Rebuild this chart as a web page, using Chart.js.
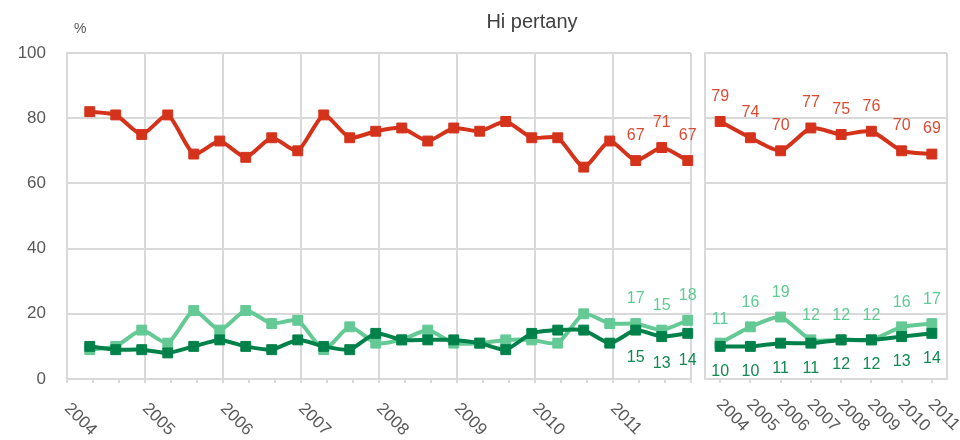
<!DOCTYPE html>
<html>
<head>
<meta charset="utf-8">
<script src="https://cdn.jsdelivr.net/npm/chart.js@4.4.1/dist/chart.umd.min.js"></script>
<style>
  html, body { margin: 0; padding: 0; background: #fff; }
  #wrap { position: relative; width: 960px; height: 440px; overflow: hidden;
          font-family: "Liberation Sans", Arial, sans-serif; }
  #left { position: absolute; left: 0; top: 0; }
  #right { position: absolute; left: 697px; top: 0; }
  #title { position: absolute; left: 432px; width: 200px; top: 10px; text-align: center;
           font-size: 20px; color: #404040; }
  #unit { position: absolute; left: 74px; top: 20px; font-size: 14px; color: #595959; }
</style>
</head>
<body>
<div id="wrap">
  <canvas id="left" width="700" height="440"></canvas>
  <canvas id="right" width="263" height="440"></canvas>
  <div id="title">Hi pertany</div>
  <div id="unit">%</div>
</div>
<script>
// Years shown on both panels
const years = ['2004', '2005', '2006', '2007', '2008', '2009', '2010', '2011'];
// Survey waves inside each year (month of fieldwork)
const waveMonths = [4, 8, 12];

// Wave results, left panel (three waves per year)
const wavesRed   = [82, 81, 75, 81, 69, 73, 68, 74, 70, 81, 74, 76, 77, 73, 77, 76, 79, 74, 74, 65, 73, 67, 71, 67];
const wavesLight = [9, 10, 15, 11, 21, 15, 21, 17, 18, 9, 16, 11, 12, 15, 11, 11, 12, 12, 11, 20, 17, 17, 15, 18];
const wavesDark  = [10, 9, 9, 8, 10, 12, 10, 9, 12, 10, 9, 14, 12, 12, 12, 11, 9, 14, 15, 15, 11, 15, 13, 14];

// Yearly results, right panel
const yearsRed   = [79, 74, 70, 77, 75, 76, 70, 69];
const yearsLight = [11, 16, 19, 12, 12, 12, 16, 17];
const yearsDark  = [10, 10, 11, 11, 12, 12, 13, 14];

// Y axis ticks
const yMin = 0, yMax = 100, yStep = 20;

const RED = '#d5321b', RED_TXT = '#dc4a32';
const LIGHT = '#64c995', LIGHT_TXT = '#5ecb92';
const DARK = '#00814a', DARK_TXT = '#0f8a50';
const GRID = '#d9d9d9';
const AXIS_TXT = '#595959';
const FONT = '"Liberation Sans", Arial, sans-serif';

// months elapsed since January of the first year, mid-month
const waveX = [];
years.forEach((y, yi) => waveMonths.forEach(m => waveX.push(yi * 12 + m - 0.5)));
const toPoints = vals => vals.map((v, i) => ({ x: waveX[i], y: v }));

// value labels next to points
const valueLabels = {
  id: 'valueLabels',
  afterDatasetsDraw(chart) {
    const ctx = chart.ctx;
    ctx.save();
    ctx.font = '16px ' + FONT;
    ctx.textAlign = 'center';
    ctx.textBaseline = 'middle';
    chart.data.datasets.forEach((ds, di) => {
      const meta = chart.getDatasetMeta(di);
      meta.data.forEach((pt, i) => {
        if (i < ds.labelFrom) return;
        const raw = ds.data[i];
        const v = typeof raw === 'object' ? raw.y : raw;
        ctx.fillStyle = ds.labelColor;
        ctx.fillText(String(v), pt.x, pt.y + ds.labelDy);
      });
    });
    ctx.restore();
  }
};

// rotated year labels under the x axis
const yearLabels = {
  id: 'yearLabels',
  afterDraw(chart, args, opts) {
    const ctx = chart.ctx;
    const xs = chart.scales.x;
    ctx.save();
    ctx.font = '17px ' + FONT;
    ctx.fillStyle = AXIS_TXT;
    ctx.textAlign = 'left';
    ctx.textBaseline = 'top';
    years.forEach((y, i) => {
      const px = xs.getPixelForValue(opts.valueAt(i));
      ctx.save();
      ctx.translate(px + opts.dx, opts.top);
      ctx.rotate(Math.PI / 4);
      ctx.fillText(y, 0, 0);
      ctx.restore();
    });
    ctx.restore();
  }
};

// right edge of the plot frame
const frameRight = {
  id: 'frameRight',
  beforeDatasetsDraw(chart) {
    const { ctx, chartArea } = chart;
    ctx.save();
    ctx.strokeStyle = GRID;
    ctx.lineWidth = 2;
    ctx.beginPath();
    ctx.moveTo(chartArea.right, chartArea.top);
    ctx.lineTo(chartArea.right, chartArea.bottom);
    ctx.stroke();
    ctx.restore();
  }
};

const lineStyle = (color) => ({
  borderColor: color,
  backgroundColor: color,
  pointBackgroundColor: color,
  pointBorderColor: color,
  borderWidth: 4,
  pointStyle: 'rect',
  pointRadius: 7,
  pointBorderWidth: 1,
  tension: 0.2,
  fill: false,
  clip: false
});

const yAxis = (showLabels, width) => ({
  min: yMin, max: yMax,
  afterFit(scale) { scale.width = width; },
  ticks: { stepSize: yStep, display: showLabels, padding: 21, color: AXIS_TXT,
           font: { family: FONT, size: 17 } },
  grid: { color: GRID, lineWidth: 2, drawTicks: false },
  border: { display: true, color: GRID, width: 2 }
});

// left panel: survey waves
new Chart(document.getElementById('left'), {
  type: 'line',
  data: {
    datasets: [
      Object.assign({ data: toPoints(wavesRed), labelFrom: 21, labelDy: -25, labelColor: RED_TXT }, lineStyle(RED)),
      Object.assign({ data: toPoints(wavesDark), labelFrom: 21, labelDy: 27, labelColor: DARK_TXT }, lineStyle(DARK)),
      Object.assign({ data: toPoints(wavesLight), labelFrom: 21, labelDy: -25, labelColor: LIGHT_TXT }, lineStyle(LIGHT))
    ]
  },
  options: {
    responsive: false,
    animation: false,
    layout: { padding: { top: 53, right: 9, bottom: 0, left: 0 } },
    plugins: {
      legend: { display: false },
      tooltip: { enabled: false },
      yearLabels: { valueAt: i => i * 12, dx: 6, top: 400 }
    },
    scales: {
      x: {
        type: 'linear',
        min: 0, max: years.length * 12,
        afterFit(scale) { scale.height = 61; },
        ticks: { stepSize: 4, display: false },
        grid: {
          color: ctx => (ctx.tick && ctx.tick.value % 12 === 0) ? GRID : 'rgba(0,0,0,0)',
          tickColor: GRID,
          lineWidth: 2,
          tickLength: 4
        },
        border: { display: true, color: GRID, width: 2 }
      },
      y: yAxis(true, 67)
    }
  },
  plugins: [valueLabels, yearLabels]
});

// right panel: yearly values
new Chart(document.getElementById('right'), {
  type: 'line',
  data: {
    labels: years,
    datasets: [
      Object.assign({ data: yearsRed, labelFrom: 0, labelDy: -25, labelColor: RED_TXT }, lineStyle(RED)),
      Object.assign({ data: yearsDark, labelFrom: 0, labelDy: 25, labelColor: DARK_TXT }, lineStyle(DARK)),
      Object.assign({ data: yearsLight, labelFrom: 0, labelDy: -24, labelColor: LIGHT_TXT }, lineStyle(LIGHT))
    ]
  },
  options: {
    responsive: false,
    animation: false,
    layout: { padding: { top: 53, right: 13, bottom: 0, left: 0 } },
    plugins: {
      legend: { display: false },
      tooltip: { enabled: false },
      yearLabels: { valueAt: i => i, dx: 5, top: 396 }
    },
    scales: {
      x: {
        type: 'category',
        offset: true,
        afterFit(scale) { scale.height = 61; },
        ticks: { display: false },
        grid: { offset: false, drawOnChartArea: false, color: GRID, tickColor: GRID, lineWidth: 2, tickLength: 4 },
        border: { display: true, color: GRID, width: 2 }
      },
      y: yAxis(false, 6)
    }
  },
  plugins: [valueLabels, yearLabels, frameRight]
});
</script>
</body>
</html>
